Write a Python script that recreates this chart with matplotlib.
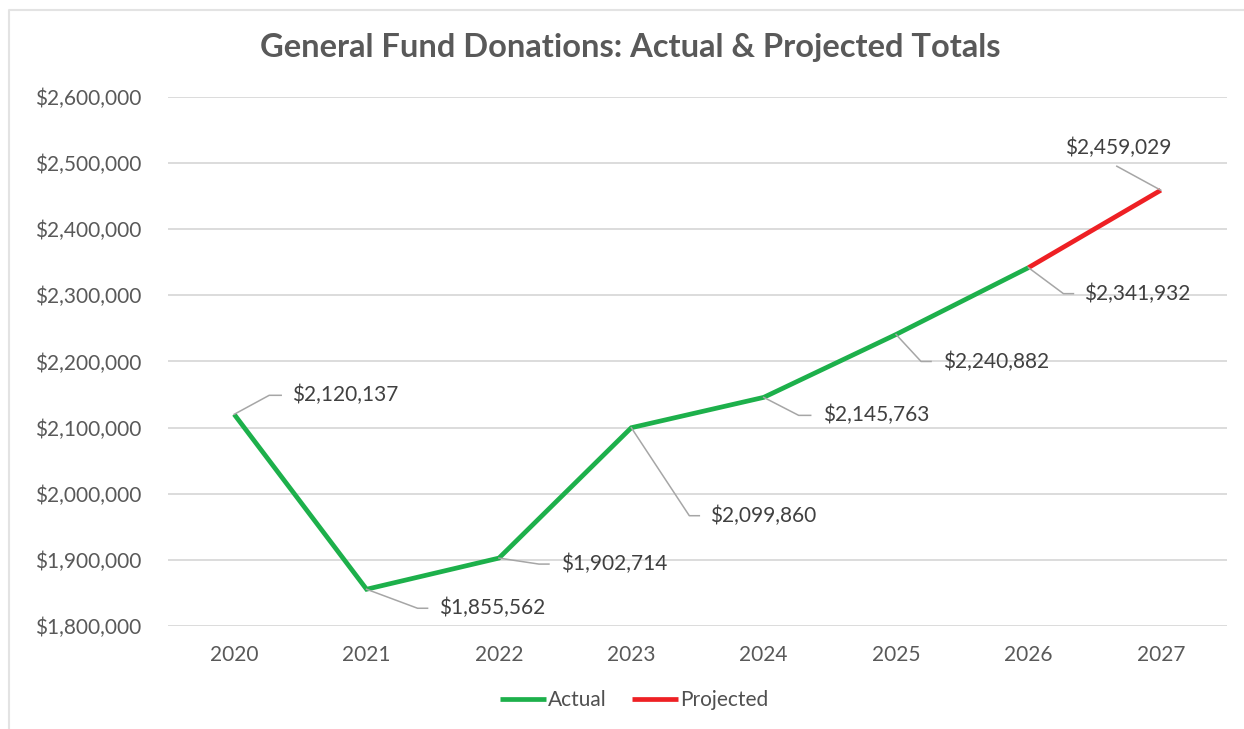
import matplotlib
matplotlib.use("Agg")
import matplotlib.pyplot as plt
from matplotlib.lines import Line2D
from matplotlib.ticker import FuncFormatter

years = ["2020", "2021", "2022", "2023", "2024", "2025", "2026", "2027"]
values = [2120137, 1855562, 1902714, 2099860, 2145763, 2240882, 2341932, 2459029]
actual_idx = [0, 1, 2, 3, 4, 5, 6]
projected_idx = [6, 7]
series_names = ["Actual", "Projected"]
title = "General Fund Donations: Actual & Projected Totals"
y_ticks = [1800000, 1900000, 2000000, 2100000, 2200000, 2300000, 2400000, 2500000, 2600000]

# label leader offsets in image pixels (dx, dy downwards): elbow, end, text anchor
leaders = [
    ((35, -19), (47, -19), (58, -19), "left"),
    ((51, 19), (61, 19), (72, 19), "left"),
    ((40, 6), (50, 6), (62, 6), "left"),
    ((58, 88), (68, 88), (79, 88), "left"),
    ((35, 18), (47, 18), (59, 18), "left"),
    ((25, 27), (35, 27), (47, 27), "left"),
    ((35, 26), (45, 26), (56, 26), "left"),
    ((-44, -24), (-44, -24), (-43, -42), "center"),
]

FONT = "Lato"
TXT = "#404040"
GREEN = "#1DB04B"
RED = "#EE2024"
FS = 15

plt.rcParams["font.family"] = [FONT, "DejaVu Sans"]

W, H = 1244, 729
fig = plt.figure(figsize=(W / 100, H / 100), dpi=100)
ax = fig.add_axes([168 / W, 1 - 626 / H, (1227 - 168) / W, (626 - 97) / H])

x = list(range(len(years)))
ax.plot([x[i] for i in actual_idx], [values[i] for i in actual_idx],
        color=GREEN, lw=3.4, solid_capstyle="butt", solid_joinstyle="miter", zorder=3,
        label=series_names[0])
ax.plot([x[i] for i in projected_idx], [values[i] for i in projected_idx],
        color=RED, lw=3.4, solid_capstyle="butt", zorder=3, label=series_names[1])

ax.set_xlim(-0.5, len(years) - 0.5)
ax.set_ylim(y_ticks[0], y_ticks[-1])
ax.set_yticks(y_ticks)
ax.yaxis.set_major_formatter(FuncFormatter(lambda v, p: "${:,.0f}".format(v)))
ax.set_xticks(x)
ax.set_xticklabels(years)
ax.grid(axis="y", color="#D9D9D9", lw=1.3)
ax.set_axisbelow(True)
for s in ax.spines.values():
    s.set_visible(False)
ax.tick_params(axis="both", length=0, labelsize=FS, labelcolor="#595959")
ax.tick_params(axis="y", pad=19)
ax.tick_params(axis="x", pad=14)

fig.text(630 / W, 1 - 48 / H, title, ha="center", va="center", fontsize=23.5,
         fontweight="bold", color="#595959")

fig.canvas.draw()
for i, v in enumerate(values):
    px, py = ax.transData.transform((x[i], v))
    (ex, ey), (fx, fy), (tx, ty), ha = leaders[i]
    fig.add_artist(Line2D([px, px + ex, px + fx], [py, py - ey, py - fy],
                          transform=None, color="#A6A6A6", lw=1.1, zorder=4))
    fig.text(px + tx, py - ty, "${:,.0f}".format(v), transform=None,
             ha=ha, va="center", fontsize=FS, color=TXT)

fig.legend(loc="center", bbox_to_anchor=(634 / W, 1 - 700 / H), ncol=2, frameon=False,
           fontsize=FS, handlelength=2.2, handletextpad=0.1, columnspacing=1.2,
           labelcolor="#505050")

# light frame
fig.add_artist(Line2D([9 / W, 9 / W, 1.0], [0.0, 1 - 10 / H, 1 - 10 / H],
                      transform=fig.transFigure, color="#E3E3E3", lw=1.5))

fig.savefig("out.png", dpi=100, facecolor="white")
